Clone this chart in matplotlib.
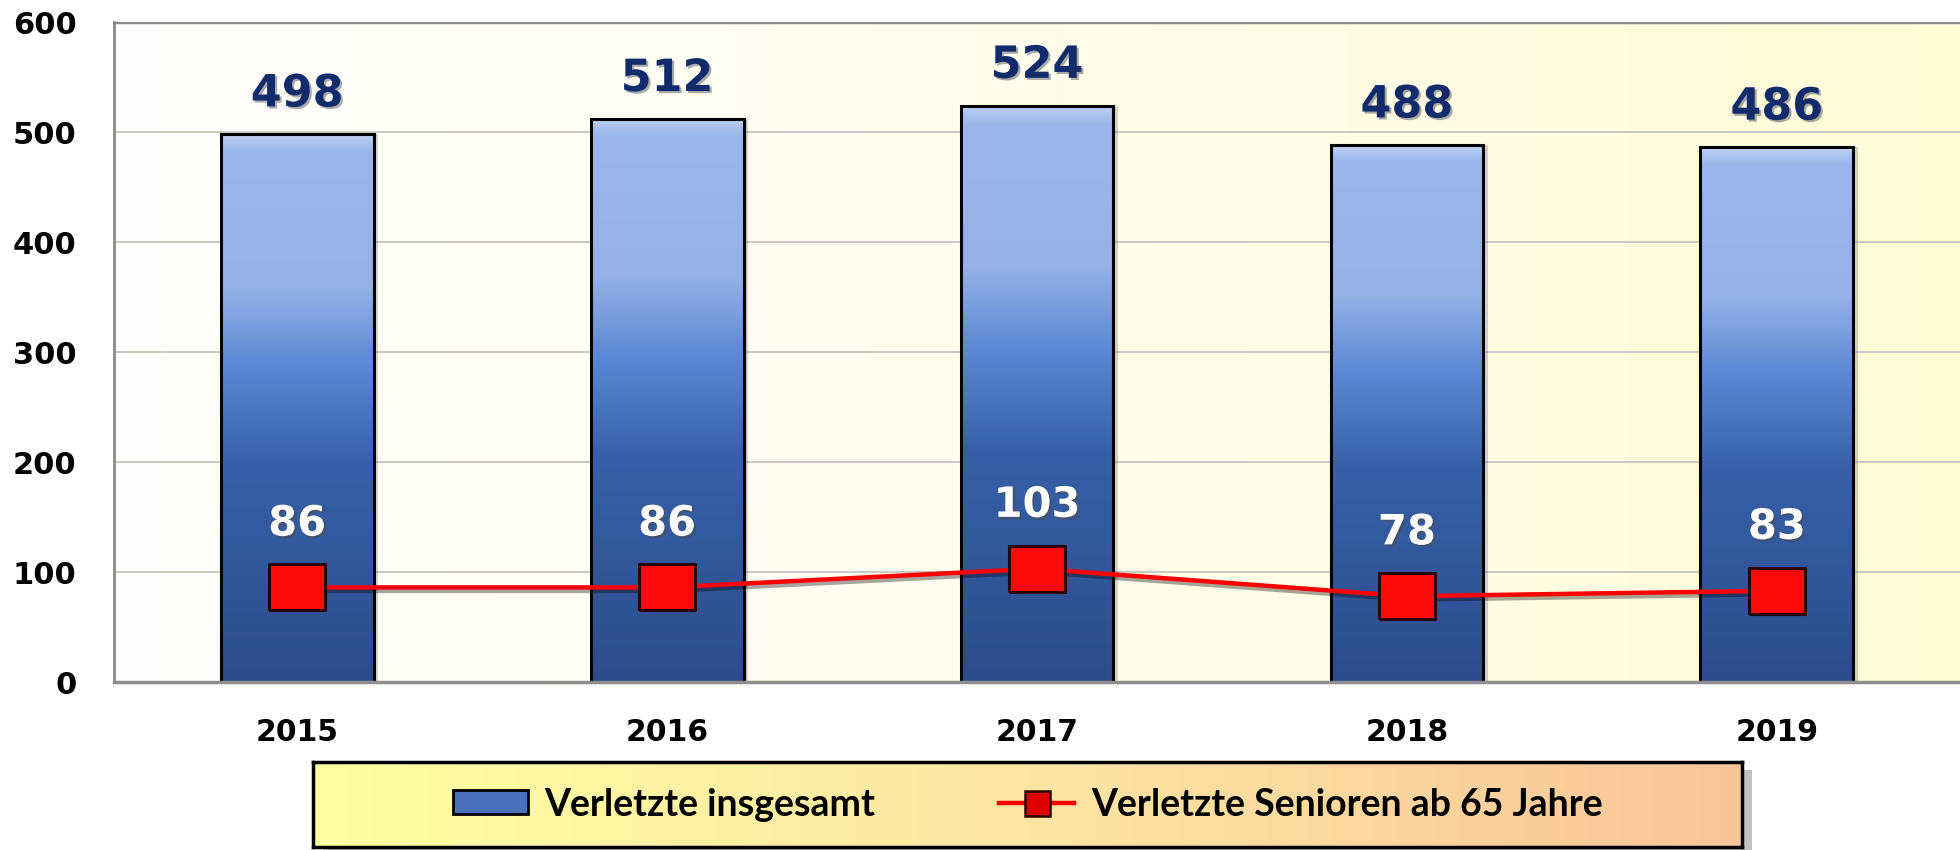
import numpy as np
import matplotlib
matplotlib.use("Agg")
import matplotlib.pyplot as plt
import matplotlib.patheffects as pe
from matplotlib.colors import LinearSegmentedColormap
from matplotlib.patches import Patch, Rectangle
from matplotlib.lines import Line2D

# --- data ---
years = ["2015", "2016", "2017", "2018", "2019"]
verletzte_gesamt = [498, 512, 524, 488, 486]
verletzte_senioren = [86, 86, 103, 78, 83]
label_gesamt = "Verletzte insgesamt"
label_senioren = "Verletzte Senioren ab 65 Jahre"

# --- colours ---
bar_cmap = LinearSegmentedColormap.from_list(
    "bar", [(0.0, "#2c4d8b"), (0.40, "#3760a8"), (0.58, "#5d88d3"),
            (0.72, "#95b1e6"), (0.97, "#9bb6ea"), (1.0, "#bcd0f2")])
bg_cmap = LinearSegmentedColormap.from_list("bg", ["#ffffff", "#fffcd8"])
leg_cmap = LinearSegmentedColormap.from_list("leg", ["#ffffa2", "#fde6a4", "#f9c598"])

fig = plt.figure(figsize=(19.6, 8.5), dpi=100)
ax = fig.add_axes([0.0582, 0.1976, 0.9418, 0.7765])

x = np.arange(len(years))
bar_w = 0.413

# plot background gradient
ax.imshow(np.linspace(0, 1, 256).reshape(1, -1), cmap=bg_cmap, aspect="auto",
          extent=[0, 1, 0, 1], transform=ax.transAxes, zorder=0)

# grid
for yv in range(100, 600, 100):
    ax.axhline(yv, color="#c9c9c2", lw=1.4, zorder=1)
ax.axhline(600, color="#8a8a8a", lw=2.5, zorder=1)

# bars with vertical gradient
bars = ax.bar(x, verletzte_gesamt, width=bar_w, facecolor="none",
              edgecolor="black", linewidth=2.2, zorder=4)
grad = np.linspace(0, 1, 256).reshape(-1, 1)
for rect in bars:
    x0, w, h = rect.get_x(), rect.get_width(), rect.get_height()
    ax.add_patch(Rectangle((x0 + 0.012, 0), w, h, facecolor="#555555",
                           alpha=0.25, edgecolor="none", zorder=2))
    im = ax.imshow(grad, cmap=bar_cmap, aspect="auto", origin="lower",
                   extent=[x0, x0 + w, 0, h], zorder=3)
    im.set_clip_path(rect)

# line for seniors
ax.plot(x, verletzte_senioren, color="#ff0000", lw=3.2, zorder=5,
        path_effects=[pe.SimpleLineShadow(offset=(1.5, -2.5), alpha=0.35),
                      pe.Normal()])
rect_marker = [(-1, -0.81), (1, -0.81), (1, 0.81), (-1, 0.81), (-1, -0.81)]
ax.plot(x, verletzte_senioren, linestyle="none", marker=rect_marker,
        markersize=40, markerfacecolor="#ff0a0a", markeredgecolor="#2a0000",
        markeredgewidth=2.2, zorder=6)

# value labels
shadow = [pe.SimplePatchShadow(offset=(1.5, -1.5), alpha=0.35), pe.Normal()]
for xi, v in zip(x, verletzte_gesamt):
    ax.annotate(str(v), (xi, v), xytext=(0, 29), textcoords="offset points",
                ha="center", va="center", fontsize=32, fontweight="bold",
                color="#112b6b", path_effects=shadow, zorder=7)
for xi, v in zip(x, verletzte_senioren):
    ax.annotate(str(v), (xi, v), xytext=(0, 46), textcoords="offset points",
                ha="center", va="center", fontsize=30, fontweight="bold",
                color="white",
                path_effects=[pe.SimplePatchShadow(offset=(1.5, -1.5), alpha=0.6),
                              pe.Normal()], zorder=7)

ax.set_xlim(-0.495, 4.495)
ax.set_ylim(0, 600)
ax.set_xticks(x)
ax.set_xticklabels(years)
ax.set_yticks(range(0, 700, 100))
ax.tick_params(axis="y", length=0, pad=27, labelsize=22)
ax.tick_params(axis="x", length=0, pad=26, labelsize=21.5)
for lab in ax.get_xticklabels() + ax.get_yticklabels():
    lab.set_fontweight("bold")
for s in ["top", "right"]:
    ax.spines[s].set_visible(False)
ax.spines["left"].set_color("#8a8a8a")
ax.spines["left"].set_linewidth(2)
ax.spines["bottom"].set_color("#8e8e8e")
ax.spines["bottom"].set_linewidth(2.5)
ax.spines["left"].set_zorder(8)
ax.spines["bottom"].set_zorder(8)

# legend box with shadow
lx, ly, lw_, lh = 313 / 1960, 3 / 850, 1429 / 1960, 85 / 850
fig.patches.append(Rectangle((lx + 10 / 1960, ly - 8 / 850), lw_, lh,
                             transform=fig.transFigure, facecolor="#777777",
                             alpha=0.45, edgecolor="none", zorder=-1))
lax = fig.add_axes([lx, ly, lw_, lh])
lax.set_zorder(5)
lax.imshow(np.linspace(0, 1, 256).reshape(1, -1), cmap=leg_cmap, aspect="auto",
           extent=[0, 1, 0, 1], transform=lax.transAxes)
lax.set_xticks([])
lax.set_yticks([])
for s in lax.spines.values():
    s.set_linewidth(2.5)
    s.set_color("black")

handles = [Patch(facecolor="#4a72ba", edgecolor="black", linewidth=2),
           Line2D([0], [0], color="#ff0000", lw=3.2, marker="s", markersize=18,
                  markerfacecolor="#e00000", markeredgecolor="#2a0000",
                  markeredgewidth=1.8)]
lax.legend(handles, [label_gesamt, label_senioren], loc="center", ncol=2,
           frameon=False, handlelength=2.0, handleheight=0.6,
           handletextpad=0.45, columnspacing=3.3,
           prop={"family": "Lato", "weight": "bold", "size": 27})

fig.savefig("out.png", dpi=100)
